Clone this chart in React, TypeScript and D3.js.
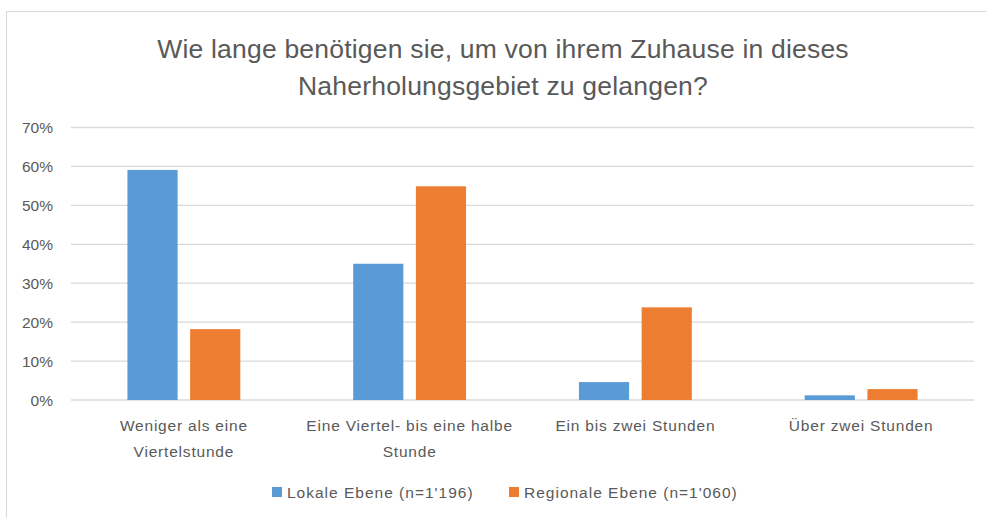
import React, { useEffect, useRef } from "react";
import * as d3 from "d3";

const categories = [
  ["Weniger als eine", "Viertelstunde"],
  ["Eine Viertel- bis eine halbe", "Stunde"],
  ["Ein bis zwei Stunden"],
  ["Über zwei Stunden"],
];
const seriesNames = ["Lokale Ebene (n=1'196)", "Regionale Ebene (n=1'060)"];
const lokale = [59.1, 35.0, 4.6, 1.2];
const regionale = [18.2, 54.9, 23.8, 2.8];
const yTicks = [0, 10, 20, 30, 40, 50, 60, 70];
const titleLines = [
  "Wie lange benötigen sie, um von ihrem Zuhause in dieses",
  "Naherholungsgebiet zu gelangen?",
];
const colors = ["#5B9BD5", "#ED7D31"];

const W = 986;
const H = 518;
const FONT = "'Liberation Sans', Arial, sans-serif";
const TEXT = "#595959";

function drawChart(el: SVGSVGElement) {
  const svg = d3.select(el);
  svg.selectAll("*").remove();

  const plot = { left: 71, right: 974, top: 127.5, bottom: 400 };

  // chart border (only top/left are visible in the frame)
  svg
    .append("rect")
    .attr("x", 6.5)
    .attr("y", 11.5)
    .attr("width", W + 20)
    .attr("height", H + 20)
    .attr("fill", "#fff")
    .attr("stroke", "#d9d9d9")
    .attr("stroke-width", 1);

  // title
  svg
    .append("g")
    .selectAll("text")
    .data(titleLines)
    .enter()
    .append("text")
    .attr("x", 503)
    .attr("y", (d, i) => 58 + i * 37)
    .attr("text-anchor", "middle")
    .attr("font-family", FONT)
    .attr("font-size", 26.5)
    .attr("letter-spacing", 0.2)
    .attr("fill", TEXT)
    .text((d) => d);

  const y = d3.scaleLinear().domain([0, 70]).range([plot.bottom, plot.top]);

  const x0 = d3
    .scaleBand()
    .domain(categories.map((c, i) => String(i)))
    .range([plot.left, plot.right])
    .paddingInner(0.5)
    .paddingOuter(0.25);

  const x1 = d3.scaleBand().domain(["0", "1"]).range([0, x0.bandwidth()]).paddingInner(0.2);

  // gridlines
  svg
    .append("g")
    .selectAll("line")
    .data(yTicks)
    .enter()
    .append("line")
    .attr("x1", plot.left)
    .attr("x2", plot.right)
    .attr("y1", (d) => y(d))
    .attr("y2", (d) => y(d))
    .attr("stroke", "#d9d9d9")
    .attr("stroke-width", 1.3);

  // y labels
  svg
    .append("g")
    .selectAll("text")
    .data(yTicks)
    .enter()
    .append("text")
    .attr("x", 53)
    .attr("y", (d) => y(d) + 5.5)
    .attr("text-anchor", "end")
    .attr("font-family", FONT)
    .attr("font-size", 15.5)
    .attr("fill", TEXT)
    .text((d) => d + "%");

  // bars
  const series = [lokale, regionale];
  series.forEach((vals, s) => {
    svg
      .append("g")
      .selectAll("rect")
      .data(vals)
      .enter()
      .append("rect")
      .attr("x", (d, i) => (x0(String(i)) as number) + (x1(String(s)) as number))
      .attr("y", (d) => y(d))
      .attr("width", x1.bandwidth())
      .attr("height", (d) => y(0) - y(d))
      .attr("fill", colors[s]);
  });

  // category labels
  const cat = svg
    .append("g")
    .selectAll("text")
    .data(categories)
    .enter()
    .append("text")
    .attr("text-anchor", "middle")
    .attr("font-family", FONT)
    .attr("font-size", 15.5)
    .attr("letter-spacing", 0.8)
    .attr("fill", TEXT);
  cat
    .selectAll("tspan")
    .data((d, i) => d.map((line) => ({ line, i })))
    .enter()
    .append("tspan")
    .attr("x", (d) => (x0(String(d.i)) as number) + x0.bandwidth() / 2)
    .attr("y", (d, j) => 431 + j * 26)
    .text((d) => d.line);

  // legend
  const legendX = [272, 509];
  const legend = svg
    .append("g")
    .selectAll("g")
    .data(seriesNames)
    .enter()
    .append("g")
    .attr("transform", (d, i) => `translate(${legendX[i]},487)`);
  legend
    .append("rect")
    .attr("width", 10)
    .attr("height", 10)
    .attr("fill", (d, i) => colors[i]);
  legend
    .append("text")
    .attr("x", 15)
    .attr("y", 11)
    .attr("font-family", FONT)
    .attr("font-size", 15.5)
    .attr("letter-spacing", 1)
    .attr("fill", TEXT)
    .text((d) => d);
}

export default function App() {
  const ref = useRef<SVGSVGElement>(null);
  useEffect(() => {
    if (ref.current) drawChart(ref.current);
  }, []);
  return (
    <svg
      ref={ref}
      width={W}
      height={H}
      style={{ position: "absolute", left: 0, top: 0, background: "#fff" }}
    />
  );
}
